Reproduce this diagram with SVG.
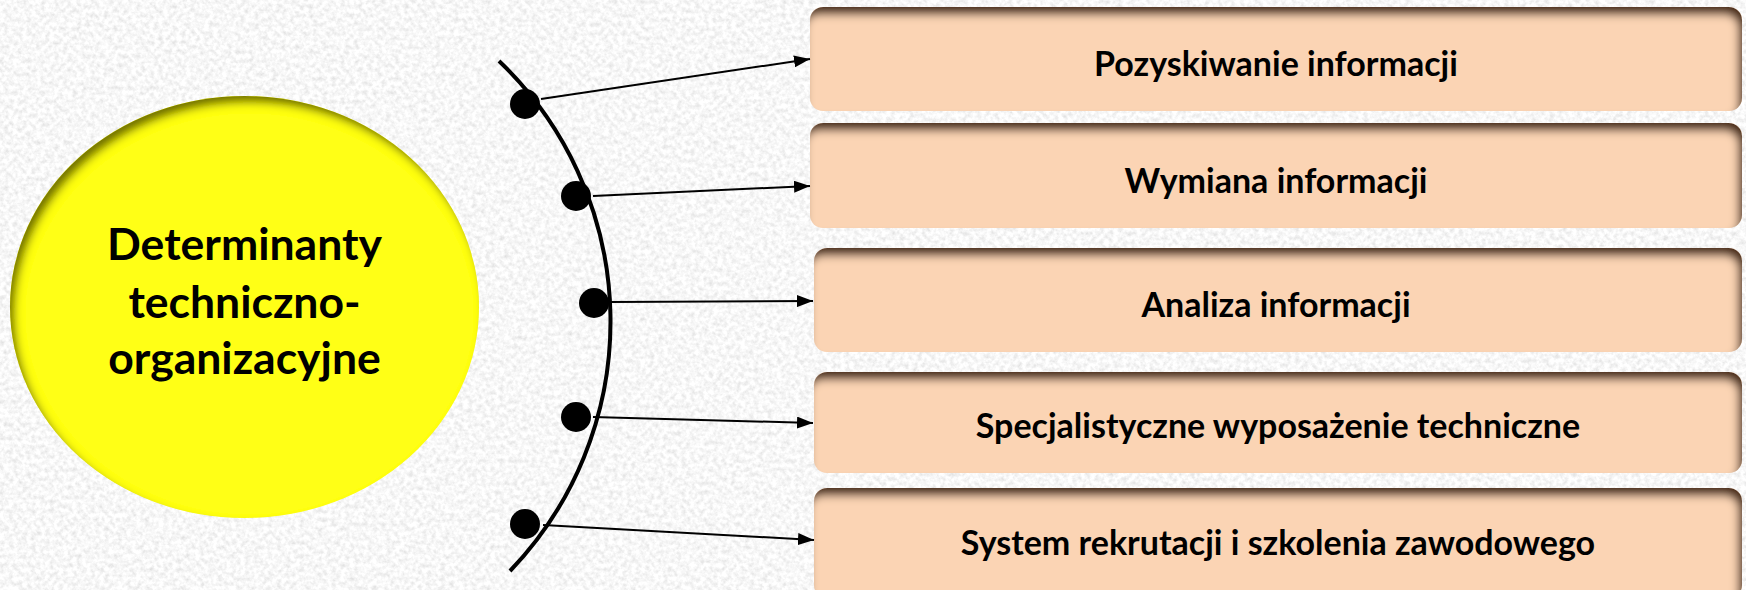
<svg xmlns="http://www.w3.org/2000/svg" width="1746" height="590" viewBox="0 0 1746 590">
<defs>
  <style>
    .box { fill: #FBD4B4; }
    .btxt { font-family: Lato, "Open Sans", "Liberation Sans", sans-serif; font-weight: bold; font-size: 34px; fill: #000; text-anchor: middle; }
    .ctxt { font-family: Lato, "Open Sans", "Liberation Sans", sans-serif; font-weight: bold; font-size: 44.5px; fill: #000; text-anchor: middle; }
    .conn { stroke: #000; stroke-width: 2; fill: none; }
    .dot { fill: #000; }
  </style>
  <filter id="grain" filterUnits="userSpaceOnUse" x="0" y="0" width="1746" height="590">
    <feTurbulence type="fractalNoise" baseFrequency="0.22" numOctaves="3" seed="7"/>
    <feColorMatrix type="matrix" values="0.45 0 0 0 0.71  0.45 0 0 0 0.71  0.45 0 0 0 0.71  0 0 0 0 1"/>
  </filter>
  <filter id="innerBox" x="-5%" y="-20%" width="110%" height="140%">
    <feComponentTransfer in="SourceAlpha" result="inv"><feFuncA type="table" tableValues="1 0"/></feComponentTransfer>
    <feOffset in="inv" dx="-4" dy="8" result="off"/>
    <feGaussianBlur in="off" stdDeviation="4" result="blur"/>
    <feFlood flood-color="#4a2c16" flood-opacity="1"/>
    <feComposite in2="blur" operator="in" result="sh"/>
    <feComposite in="sh" in2="SourceAlpha" operator="in" result="ins"/>
    <feMerge><feMergeNode in="SourceGraphic"/><feMergeNode in="ins"/></feMerge>
  </filter>
  <filter id="innerCircle" x="-5%" y="-5%" width="110%" height="110%">
    <feComponentTransfer in="SourceAlpha" result="inv"><feFuncA type="table" tableValues="1 0"/></feComponentTransfer>
    <feOffset in="inv" dx="5" dy="7" result="off"/>
    <feGaussianBlur in="off" stdDeviation="4" result="blur"/>
    <feFlood flood-color="#505000" flood-opacity="0.9"/>
    <feComposite in2="blur" operator="in" result="sh"/>
    <feComposite in="sh" in2="SourceAlpha" operator="in" result="ins"/>
    <feMerge><feMergeNode in="SourceGraphic"/><feMergeNode in="ins"/></feMerge>
  </filter>
  <marker id="arrow" viewBox="0 0 16 12" refX="16" refY="6" markerWidth="16" markerHeight="12" markerUnits="userSpaceOnUse" orient="auto">
    <path d="M0,0 L16,6 L0,12 z" fill="#000"/>
  </marker>
</defs>

<rect x="0" y="0" width="1746" height="590" fill="#E8E8E8" filter="url(#grain)"/>

<g id="center-node">
  <ellipse cx="244.5" cy="307" rx="234.5" ry="211" fill="#FFFF14" filter="url(#innerCircle)"/>
  <text class="ctxt" x="244.5" y="260">Determinanty</text>
  <text class="ctxt" x="244.5" y="318">techniczno-</text>
  <text class="ctxt" x="244.5" y="374">organizacyjne</text>
</g>

<g id="node-1">
  <rect class="box" x="810" y="7" width="932" height="104" rx="13" filter="url(#innerBox)"/>
  <text class="btxt" x="1276" y="76">Pozyskiwanie informacji</text>
</g>
<g id="node-2">
  <rect class="box" x="810" y="123" width="932" height="105" rx="13" filter="url(#innerBox)"/>
  <text class="btxt" x="1276" y="193">Wymiana informacji</text>
</g>
<g id="node-3">
  <rect class="box" x="814" y="248" width="928" height="104" rx="13" filter="url(#innerBox)"/>
  <text class="btxt" x="1276" y="317">Analiza informacji</text>
</g>
<g id="node-4">
  <rect class="box" x="814" y="372" width="928" height="101" rx="13" filter="url(#innerBox)"/>
  <text class="btxt" x="1278" y="438">Specjalistyczne wyposażenie techniczne</text>
</g>
<g id="node-5">
  <rect class="box" x="814" y="488" width="928" height="110" rx="13" filter="url(#innerBox)"/>
  <text class="btxt" x="1278" y="555">System rekrutacji i szkolenia zawodowego</text>
</g>

<g id="connectors">
  <path d="M499,61 A360,360 0 0 1 510,571" stroke="#000" stroke-width="4" fill="none"/>
  <circle class="dot" cx="525" cy="104" r="15"/>
  <circle class="dot" cx="576" cy="196" r="15"/>
  <circle class="dot" cx="594" cy="303" r="15"/>
  <circle class="dot" cx="576" cy="417" r="15"/>
  <circle class="dot" cx="525" cy="524" r="15"/>
  <line class="conn" x1="541" y1="99" x2="810" y2="59" marker-end="url(#arrow)"/>
  <line class="conn" x1="593" y1="196" x2="810" y2="186" marker-end="url(#arrow)"/>
  <line class="conn" x1="610" y1="302" x2="813" y2="301" marker-end="url(#arrow)"/>
  <line class="conn" x1="593" y1="417" x2="813" y2="423" marker-end="url(#arrow)"/>
  <line class="conn" x1="543" y1="525" x2="814" y2="540" marker-end="url(#arrow)"/>
</g>
</svg>
